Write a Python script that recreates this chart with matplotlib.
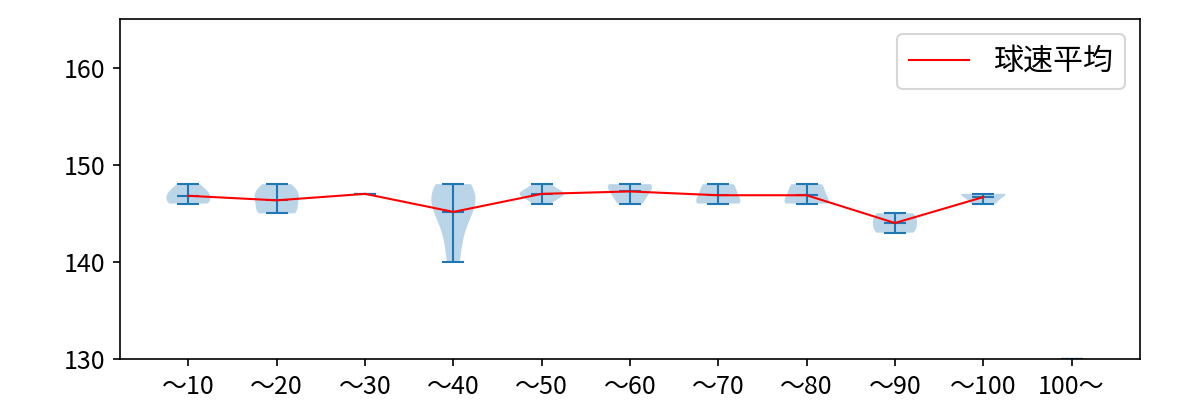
import numpy as np
import matplotlib.pyplot as plt

plt.rcParams['font.family'] = ['Noto Sans CJK JP', 'DejaVu Sans']
plt.rcParams['font.size'] = 12

# ============ DATA ============
labels = ['～10', '～20', '～30', '～40', '～50', '～60',
          '～70', '～80', '～90', '～100', '100～']
speeds = [
    [146, 146, 147, 147, 148],
    [145, 145, 146, 147, 148, 147],
    [147],
    [140, 143, 145, 146, 147, 148, 147],
    [146, 147, 147, 147, 148],
    [146, 147, 148, 148],
    [146, 146, 146, 147, 148, 148, 147],
    [146, 146, 146, 147, 148, 148, 147],
    [143, 143, 144, 144, 145, 145],
    [146, 147, 147],
    [130],
]
mean_speed = [np.mean(s) for s in speeds[:10]]

# ============ PLOT ============
fig = plt.figure(figsize=(8, 8 / 3), dpi=150)
ax = fig.add_axes([0.1, 0.1025, 0.85, 0.85])

pos = np.arange(1, len(labels) + 1)
vp = ax.violinplot(speeds, positions=pos, showmeans=True)
for key in ['cmeans', 'cmins', 'cmaxes', 'cbars']:
    vp[key].set_linewidth(1.0)
ax.plot(pos[:10], mean_speed, color='red', linewidth=1, label='球速平均')

ax.set_xticks(pos)
ax.set_xticklabels(labels)
ax.set_ylim(130, 165)
ax.set_yticks([130, 140, 150, 160])
ax.legend(loc='upper right', fontsize='large')

plt.savefig('out.png', dpi=150)
plt.close()
